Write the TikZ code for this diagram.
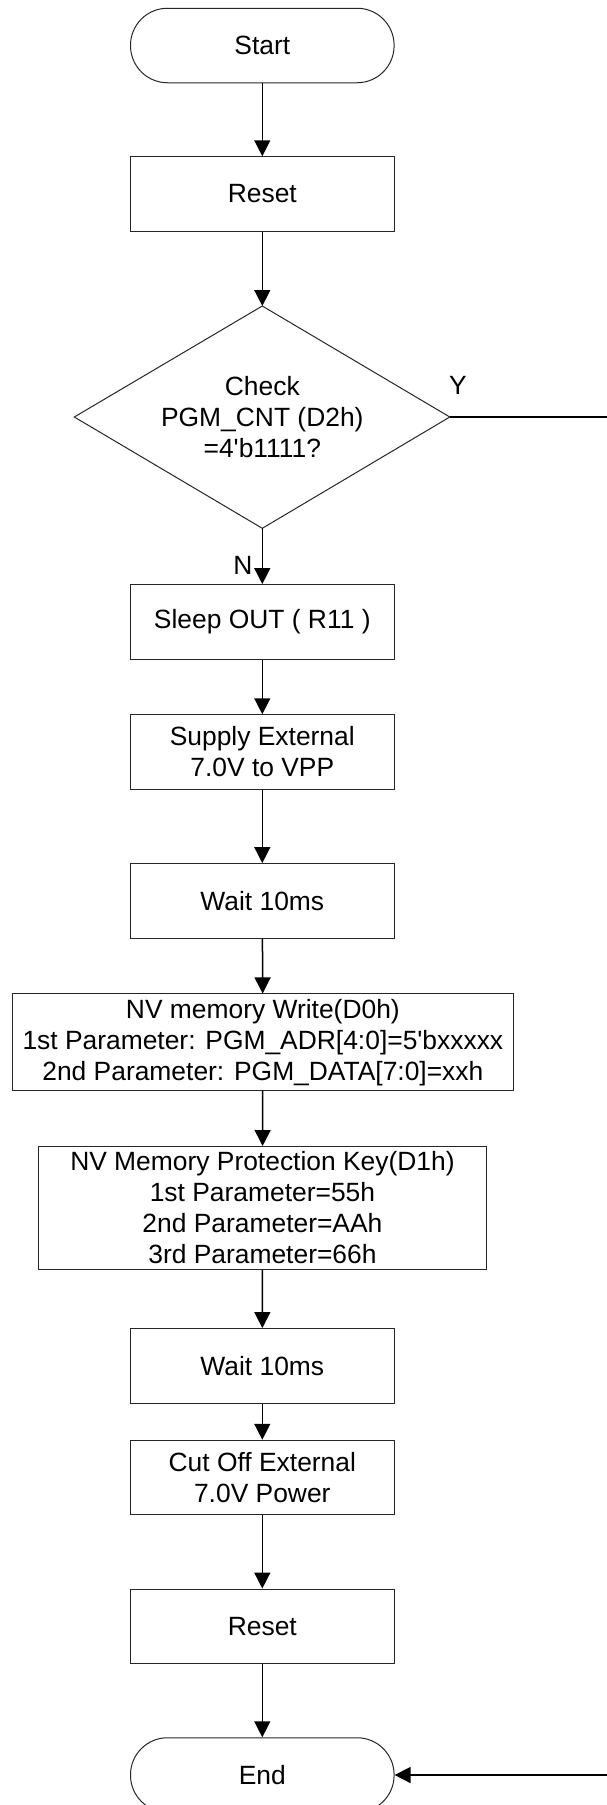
\documentclass[tikz,border=0pt]{standalone}
\usepackage{fontspec}
\setmainfont{Liberation Sans}[Ligatures=TeXOff]
\usetikzlibrary{arrows.meta}
\begin{document}
\begin{tikzpicture}[x=1pt,y=-1pt,
  every node/.style={font=\fontsize{26.4}{31}\selectfont, align=center, inner sep=0pt},
  proc/.style={draw=black!85, line width=1pt, minimum width=263.6pt, minimum height=74.5pt},
  term/.style={proc, rounded corners=37pt},
  shapeline/.style={draw=black!85, line width=1pt},
  flow/.style={line width=1.5pt, -{Triangle[length=16pt,width=16pt]}},
  plain/.style={line width=1.5pt}]
\useasboundingbox (0,0) rectangle (607,1805);
\clip (0,0) rectangle (607,1805);

\node[term] (start) at (262.3,45.5) {Start};
\node[proc] (reset1) at (262.3,194) {Reset};
% decision
\node (check) at (262.3,417) {Check\\PGM\_CNT (D2h)\\=4'b1111?};
\coordinate (ctop) at (262.3,306);
\coordinate (cbot) at (262.3,528.3);
\coordinate (cleft) at (74.3,417);
\coordinate (cright) at (449.8,417);
\draw[shapeline, line join=miter] (ctop) -- (cright) -- (cbot) -- (cleft) -- cycle;

\node[proc] (sleep) at (262.3,621.8) {Sleep OUT ( R11 )};
\node[proc] (supply) at (262.3,752) {Supply External\\7.0V to VPP};
\node[proc] (wait1) at (262.3,900.8) {Wait 10ms};
\node[proc, minimum width=500.9pt, minimum height=96.7pt] (nvw) at (262.85,1042.3)
  {NV memory Write(D0h)\\1st Parameter: PGM\_ADR[4:0]=5'bxxxxx\\2nd Parameter: PGM\_DATA[7:0]=xxh};
\node[proc, minimum width=448.3pt, minimum height=122.8pt] (nvp) at (262.45,1207.9)
  {NV Memory Protection Key(D1h)\\1st Parameter=55h\\2nd Parameter=AAh\\3rd Parameter=66h};
\node[proc] (wait2) at (262.3,1365.8) {Wait 10ms};
\node[proc] (cut) at (262.3,1477.5) {Cut Off External\\7.0V Power};
\node[proc] (reset2) at (262.3,1626.3) {Reset};
\node[term] (end) at (262.3,1775) {End};

\node (ylab) at (458,385) {Y};
\node (nlab) at (243,565) {N};

\coordinate (yedge) at (612,417);
\coordinate (eedge) at (612,1775);

\draw[flow] (start) -- (reset1);
\draw[flow] (reset1) -- (ctop);
\draw[flow] (cbot) -- (sleep);
\draw[flow] (sleep) -- (supply);
\draw[flow] (supply) -- (wait1);
\draw[flow] (wait1) -- (nvw);
\draw[flow] (nvw) -- (nvp);
\draw[flow] (nvp) -- (wait2);
\draw[flow] (wait2) -- (cut);
\draw[flow] (cut) -- (reset2);
\draw[flow] (reset2) -- (end);
\draw[plain] (cright) -- (yedge);
\draw[flow] (eedge) -- (end.east);
\end{tikzpicture}
\end{document}
